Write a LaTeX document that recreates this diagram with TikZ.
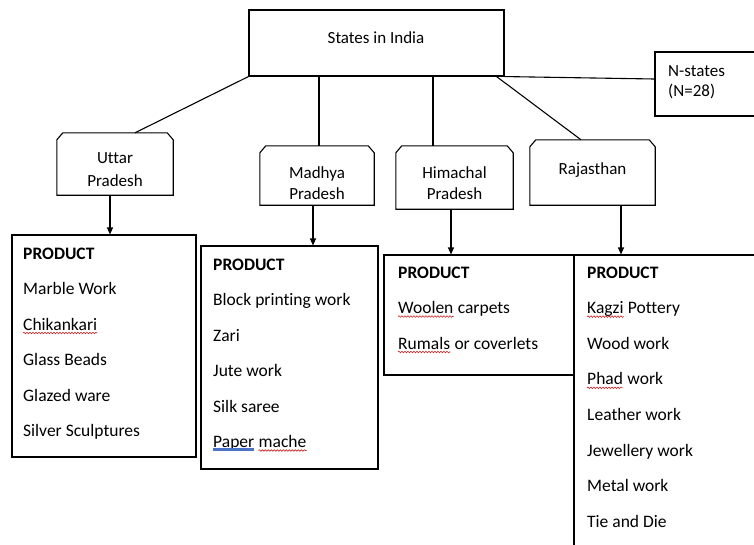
\documentclass[tikz,border=0pt]{standalone}
\usepackage{fontspec}
\setmainfont{Carlito}[Ligatures=NoCommon]
\usetikzlibrary{arrows.meta,decorations.pathmorphing,calc}
\definecolor{spellred}{RGB}{205,35,35}
\definecolor{gramblue}{RGB}{75,115,200}
\newcommand\chamfbox[1]{\draw[line] (#1.south west) -- ([yshift=-7pt]#1.north west) -- ([xshift=6pt]#1.north west) -- ([xshift=-6pt]#1.north east) -- ([yshift=-7pt]#1.north east) -- (#1.south east) -- cycle;}
\begin{document}
\begin{tikzpicture}[x=1pt,y=-1pt,
 line/.style={line width=1.1pt, draw=black},
 arr/.style={line, -{Triangle[length=7pt,width=6pt]}},
 box/.style={draw=black, line width=1.1pt, rectangle, inner sep=0pt},
 ghost/.style={draw=none, rectangle, inner sep=0pt},
 lab/.style={anchor=base, inner sep=0pt, font=\fontsize{17}{20}\selectfont},
 labl/.style={anchor=base west, inner sep=0pt, font=\fontsize{17}{20}\selectfont},
 item/.style={anchor=base west, inner sep=0pt, font=\fontsize{17.5}{21}\selectfont},
 itemb/.style={anchor=base west, inner sep=0pt, font=\fontsize{17.5}{21}\selectfont\bfseries},
 spell/.style={draw=spellred, line width=0.6pt, decorate, decoration={snake, amplitude=0.8pt, segment length=3pt}},
 gram/.style={draw=gramblue, line width=2.2pt}
]
\useasboundingbox (0,0) rectangle (754,544);
\clip (0,0) rectangle (754,544);

% top box and N-states
\node[box, minimum width=255pt, minimum height=66pt] (top) at (376.5,43) {};
\node[lab] (topt) at (376,43) {States in India};
\node[box, minimum width=105pt, minimum height=64pt] (ns) at (707.5,84) {};
\node[labl] (ns1) at (668,76) {N-states};
\node[labl] (ns2) at (668,96) {(N=28)};

% state boxes
\node[ghost, minimum width=116pt, minimum height=62pt] (up) at (115,164) {};
\chamfbox{up}
\node[lab] (up1) at (115,163) {Uttar};
\node[lab] (up2) at (115,186) {Pradesh};

\node[ghost, minimum width=114pt, minimum height=59pt] (mp) at (317,175.5) {};
\chamfbox{mp}
\node[lab] (mp1) at (317,178) {Madhya};
\node[lab] (mp2) at (317,199) {Pradesh};

\node[ghost, minimum width=117pt, minimum height=63pt] (hp) at (454.5,177.5) {};
\chamfbox{hp}
\node[lab] (hp1) at (454.5,178) {Himachal};
\node[lab] (hp2) at (454.5,199) {Pradesh};

\node[ghost, minimum width=125pt, minimum height=65pt] (rj) at (592.5,172.5) {};
\chamfbox{rj}
\node[lab] (rj1) at (592.5,174) {Rajasthan};

% connectors from top
\draw[line] (top.south west) -- ([xshift=20pt]up.north);
\draw[line] ([xshift=2pt]mp.north |- top.south) -- ([xshift=2pt]mp.north);
\draw[line] ([xshift=-21.5pt]hp.north |- top.south) -- ([xshift=-21.5pt]hp.north);
\draw[line] ([xshift=-8pt]top.south east) -- ([xshift=-11.5pt]rj.north);
\draw[line] (top.south east) -- ([yshift=5pt]ns.west);

% product boxes
\node[box, minimum width=184pt, minimum height=222pt] (p1) at (104,346) {};
\node[box, minimum width=177pt, minimum height=223pt] (p2) at (289.5,357.5) {};
\node[box, minimum width=190pt, minimum height=120pt] (p3) at (479,315) {};
\node[box, minimum width=196pt, minimum height=305pt] (p4) at (672,407.5) {};

% arrows
\draw[arr] ([xshift=-5pt]up.south) -- ([xshift=-5pt]up.south |- p1.north);
\draw[arr] ([xshift=-4pt]mp.south) -- ([xshift=-4pt]mp.south |- p2.north);
\draw[arr] ([xshift=-3.5pt]hp.south) -- ([xshift=-3.5pt]hp.south |- p3.north);
\draw[arr] ([xshift=28.5pt]rj.south) -- ([xshift=28.5pt]rj.south |- p4.north);

% box 1
\node[itemb] (p1h) at (23,259) {PRODUCT};
\node[item] (p1a) at (23,294.5) {Marble Work};
\node[item] (p1b) at (23,330) {Chikankari};
\node[item] (p1c) at (23,365.5) {Glass Beads};
\node[item] (p1d) at (23,401) {Glazed ware};
\node[item] (p1e) at (23,436.5) {Silver Sculptures};
\draw[spell] ([yshift=-3pt]p1b.base west) -- ([yshift=-3pt]p1b.base east);

% box 2
\node[itemb] (p2h) at (213,270) {PRODUCT};
\node[item] (p2a) at (213,305.5) {Block printing work};
\node[item] (p2b) at (213,341) {Zari};
\node[item] (p2c) at (213,376.5) {Jute work};
\node[item] (p2d) at (213,412) {Silk saree};
\node[item] (p2e1) at (213,447.5) {Paper};
\node[item, xshift=4pt] (p2e2) at (p2e1.base east) {mache};
\draw[gram] ([yshift=-2pt]p2e1.base west) -- ([yshift=-2pt]p2e1.base east);
\draw[spell] ([yshift=-3pt]p2e2.base west) -- ([yshift=-3pt]p2e2.base east);

% box 3
\node[itemb] (p3h) at (398,278) {PRODUCT};
\node[item] (p3a1) at (398,313.5) {Woolen};
\node[item, xshift=4pt] (p3a2) at (p3a1.base east) {carpets};
\node[item] (p3b1) at (398,349) {Rumals};
\node[item, xshift=4pt] (p3b2) at (p3b1.base east) {or coverlets};
\draw[spell] ([yshift=-3pt]p3a1.base west) -- ([yshift=-3pt]p3a1.base east);
\draw[spell] ([yshift=-3pt]p3b1.base west) -- ([yshift=-3pt]p3b1.base east);

% box 4
\node[itemb] (p4h) at (587,278) {PRODUCT};
\node[item] (p4a1) at (587,313.6) {Kagzi};
\node[item, xshift=4pt] (p4a2) at (p4a1.base east) {Pottery};
\node[item] (p4b) at (587,349.2) {Wood work};
\node[item] (p4c1) at (587,384.8) {Phad};
\node[item, xshift=4pt] (p4c2) at (p4c1.base east) {work};
\node[item] (p4d) at (587,420.4) {Leather work};
\node[item] (p4e) at (587,456) {Jewellery work};
\node[item] (p4f) at (587,491.6) {Metal work};
\node[item] (p4g) at (587,527.2) {Tie and Die};
\draw[spell] ([yshift=-3pt]p4a1.base west) -- ([yshift=-3pt]p4a1.base east);
\draw[spell] ([yshift=-3pt]p4c1.base west) -- ([yshift=-3pt]p4c1.base east);
\end{tikzpicture}
\end{document}
